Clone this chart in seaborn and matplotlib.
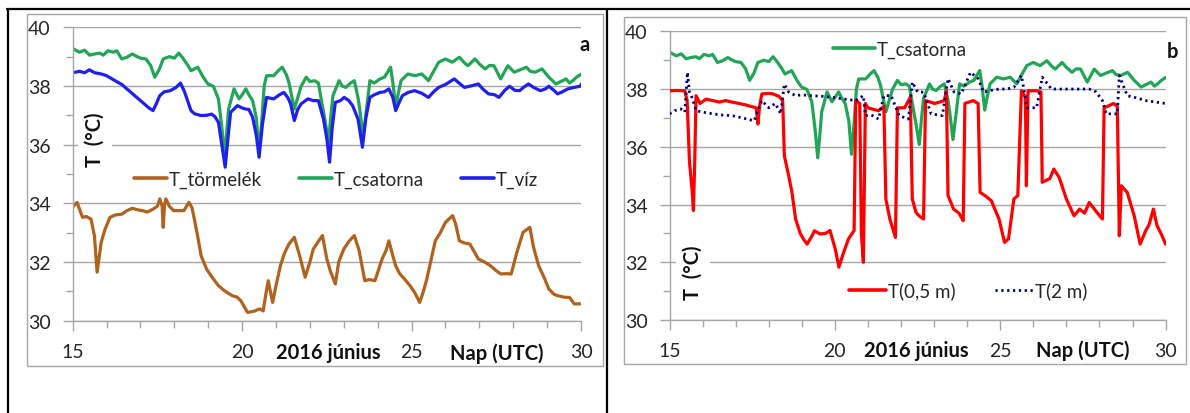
import matplotlib
matplotlib.use("Agg")
import matplotlib.pyplot as plt
import seaborn as sns
import pandas as pd
from matplotlib.lines import Line2D
from matplotlib.patches import Rectangle
from matplotlib.ticker import MultipleLocator

# ---------------- data ----------------
csat_day = [15.0, 15.03, 15.2, 15.35, 15.5, 15.64, 15.8, 15.9, 16.04, 16.2, 16.3, 16.45, 16.6, 16.76, 16.9,
            17.0, 17.16, 17.3, 17.42, 17.55, 17.67, 17.85, 18.0, 18.13, 18.25, 18.4, 18.49, 18.69, 18.85,
            18.99, 19.15, 19.3, 19.4, 19.48, 19.55, 19.6, 19.76, 19.91, 20.0, 20.11, 20.2, 20.31, 20.42,
            20.5, 20.58, 20.65, 20.72, 20.93, 21.05, 21.18, 21.3, 21.38, 21.54, 21.64, 21.74, 21.89, 22.0,
            22.14, 22.25, 22.35, 22.45, 22.55, 22.62, 22.68, 22.86, 22.95, 23.06, 23.2, 23.31, 23.42,
            23.47, 23.57, 23.67, 23.77, 23.9, 24.07, 24.2, 24.38, 24.45, 24.53, 24.6, 24.69, 24.89, 25.1,
            25.3, 25.5, 25.65, 25.8, 26.0, 26.2, 26.41, 26.55, 26.66, 26.87, 27.0, 27.17, 27.3, 27.43,
            27.63, 27.84, 28.03, 28.2, 28.39, 28.5, 28.65, 28.85, 29.05, 29.26, 29.4, 29.56, 29.66, 29.76,
            29.87, 30.0]
csat_val = [39.2, 39.26, 39.15, 39.22, 39.05, 39.09, 39.12, 39.05, 39.2, 39.15, 39.2, 38.92, 38.98, 39.09, 39.0,
            38.95, 38.92, 38.7, 38.3, 38.55, 38.92, 39.0, 38.95, 39.12, 38.95, 38.7, 38.52, 38.64, 38.3,
            38.07, 37.99, 37.56, 36.6, 35.62, 36.5, 37.21, 37.9, 37.56, 37.7, 37.9, 37.7, 37.5, 36.9,
            35.74, 36.8, 38.0, 38.35, 38.35, 38.5, 38.64, 38.4, 38.12, 37.21, 37.6, 37.99, 38.3, 38.15,
            38.18, 38.1, 37.44, 36.8, 36.08, 37.0, 37.67, 38.18, 38.0, 37.95, 38.1, 38.18, 37.6,
            37.21, 36.25, 37.2, 38.18, 38.1, 38.24, 38.3, 38.64, 38.1, 37.27, 37.7, 38.18, 38.41, 38.35,
            38.41, 38.18, 38.5, 38.81, 38.92, 38.81, 38.98, 38.8, 38.69, 38.92, 38.75, 38.58, 38.7, 38.69,
            38.24, 38.69, 38.47, 38.55, 38.64, 38.5, 38.47, 38.58, 38.3, 38.07, 38.15, 38.24, 38.1, 38.18,
            38.3, 38.4]

viz_day = [15.0, 15.2, 15.35, 15.49, 15.65, 15.84, 16.0, 16.25, 16.45, 16.66, 16.85, 17.06, 17.25, 17.37, 17.45,
           17.57, 17.7, 17.88, 18.05, 18.18, 18.3, 18.49, 18.6, 18.79, 18.95, 19.1, 19.2, 19.3, 19.4, 19.5,
           19.58, 19.66, 19.86, 20.0, 20.11, 20.2, 20.31, 20.42, 20.5, 20.6, 20.72, 20.93, 21.1, 21.23,
           21.35, 21.43, 21.54, 21.64, 21.74, 21.94, 22.1, 22.25, 22.4, 22.5, 22.58, 22.66, 22.75, 22.9,
           23.01, 23.15, 23.26, 23.42, 23.55, 23.65, 23.77, 23.9, 24.07, 24.2, 24.33, 24.45, 24.53, 24.62,
           24.73, 24.9, 25.09, 25.3, 25.5, 25.65, 25.8, 26.0, 26.26, 26.4, 26.56, 26.75, 26.97, 27.1,
           27.27, 27.45, 27.58, 27.75, 27.89, 28.05, 28.19, 28.3, 28.45, 28.6, 28.8, 28.95, 29.05, 29.2,
           29.31, 29.45, 29.61, 29.8, 29.97, 30.0]
viz_val = [38.45, 38.5, 38.45, 38.55, 38.45, 38.41, 38.35, 38.18, 38.05, 37.84, 37.65, 37.44, 37.25, 37.16, 37.35,
           37.67, 37.8, 37.84, 37.95, 38.1, 37.8, 37.16, 37.05, 36.99, 37.0, 37.04, 36.95, 36.76, 36.0, 35.23,
           36.2, 37.1, 37.33, 37.25, 37.21, 37.2, 36.93, 36.3, 35.57, 36.7, 37.61, 37.56, 37.7, 37.78,
           37.6, 37.39, 36.82, 37.2, 37.39, 37.56, 37.5, 37.5, 36.87, 36.2, 35.4, 36.6, 37.44, 37.5,
           37.61, 37.5, 37.33, 36.87, 35.91, 36.9, 37.61, 37.7, 37.78, 37.8, 37.9, 37.6, 37.16, 37.4,
           37.67, 37.78, 37.84, 37.75, 37.61, 37.8, 37.95, 38.05, 38.24, 38.1, 37.95, 38.0, 38.07, 37.9,
           37.73, 37.7, 37.61, 37.85, 37.99, 37.85, 37.84, 37.95, 38.07, 37.95, 37.84, 37.9, 37.99, 37.85,
           37.73, 37.8, 37.9, 37.95, 37.99, 38.05]

torm_day = [15.0, 15.03, 15.13, 15.2, 15.29, 15.4, 15.54, 15.64, 15.72, 15.84, 15.95, 16.1, 16.25, 16.45, 16.6,
            16.76, 16.9, 17.06, 17.2, 17.37, 17.5, 17.57, 17.64, 17.67, 17.71, 17.75, 17.85, 17.98, 18.1,
            18.28, 18.43, 18.52, 18.59, 18.7, 18.79, 18.95, 19.1, 19.3, 19.5, 19.71, 19.85, 19.96, 20.05,
            20.16, 20.35, 20.52, 20.62, 20.7, 20.77, 20.9, 21.0, 21.13, 21.25, 21.38, 21.54, 21.7, 21.86,
            22.0, 22.1, 22.25, 22.37, 22.5, 22.6, 22.75, 22.85, 23.0, 23.15, 23.31, 23.45, 23.62, 23.75,
            23.92, 24.13, 24.25, 24.33, 24.45, 24.53, 24.65, 24.79, 24.95, 25.09, 25.24, 25.35, 25.45,
            25.6, 25.7, 25.85, 26.0, 26.21, 26.3, 26.41, 26.55, 26.72, 26.85, 26.97, 27.15, 27.33, 27.5,
            27.63, 27.8, 27.94, 28.1, 28.29, 28.49, 28.6, 28.75, 28.9, 29.05, 29.2, 29.31, 29.5, 29.66,
            29.8, 29.97]
torm_val = [33.85, 33.92, 34.03, 33.8, 33.52, 33.55, 33.46, 32.9, 31.65, 32.67, 33.1, 33.52, 33.6, 33.63, 33.75,
            33.83, 33.78, 33.75, 33.7, 33.8, 33.9, 34.15, 33.9, 33.18, 33.95, 34.15, 33.9, 33.75, 33.75,
            33.75, 34.03, 33.85, 33.46, 32.8, 32.21, 31.76, 31.5, 31.19, 31.0, 30.85, 30.8, 30.68, 30.5,
            30.28, 30.32, 30.4, 30.33, 30.9, 31.36, 30.62, 31.2, 31.87, 32.3, 32.61, 32.84, 32.2, 31.48,
            32.0, 32.44, 32.7, 32.9, 32.1, 31.7, 31.25, 32.0, 32.44, 32.7, 32.9, 32.4, 31.36, 31.4,
            31.36, 32.1, 32.4, 32.72, 32.2, 31.87, 31.6, 31.42, 31.2, 30.96, 30.62, 31.0, 31.42,
            32.2, 32.72, 33.0, 33.35, 33.58, 33.3, 32.72, 32.65, 32.61, 32.35, 32.1, 32.0, 31.87, 31.7,
            31.59, 31.6, 31.59, 32.3, 33.01, 33.18, 32.5, 31.87, 31.5, 31.08, 30.9, 30.85, 30.8, 30.79,
            30.57, 30.57]

t05_day = [15.0, 15.2, 15.46, 15.53, 15.6, 15.68, 15.72, 15.76, 15.8, 15.92, 16.1, 16.31, 16.5, 16.7, 16.88,
           17.1, 17.3, 17.45, 17.62, 17.67, 17.72, 17.79, 18.0, 18.13, 18.3, 18.42, 18.47, 18.6, 18.7,
           18.81, 18.95, 19.05, 19.16, 19.3, 19.38, 19.55, 19.72, 19.85, 20.01, 20.12, 20.25, 20.41,
           20.58, 20.63, 20.75, 20.8, 20.86, 20.92, 21.0, 21.15, 21.32, 21.48, 21.54, 21.66, 21.83,
           21.89, 22.11, 22.28, 22.34, 22.45, 22.55, 22.68, 22.74, 23.02, 23.31, 23.37, 23.42, 23.59,
           23.75, 23.88, 23.93, 24.18, 24.33, 24.39, 24.55, 24.73, 24.96, 25.13, 25.25, 25.41, 25.53,
           25.64, 25.76, 25.79, 25.84, 26.1, 26.23, 26.27, 26.5, 26.62, 26.78, 27.0, 27.23, 27.4, 27.55,
           27.69, 27.92, 28.09, 28.14, 28.43, 28.54, 28.6, 28.66, 28.84, 29.05, 29.23, 29.4, 29.5,
           29.63, 29.74, 29.86, 30.0]
t05_val = [37.94, 37.95, 37.94, 37.6, 35.5, 34.5, 33.79, 35.5, 37.77, 37.5, 37.65, 37.6, 37.55, 37.6, 37.55,
           37.5, 37.45, 37.4, 37.35, 36.79, 37.4, 37.83, 37.85, 37.83, 37.75, 37.6, 35.69, 35.0, 34.42,
           33.5, 33.0, 32.8, 32.63, 32.9, 33.09, 32.98, 33.0, 33.1, 32.46, 31.83, 32.3, 32.81,
           33.1, 37.6, 37.5, 33.0, 32.0, 37.5, 37.35, 37.3, 37.25, 37.4, 34.19, 33.5, 32.86,
           37.35, 37.35, 37.72, 34.19, 33.73, 33.6, 33.5, 37.6, 37.5, 37.6, 37.94, 34.31, 33.84,
           33.7, 33.44, 37.5, 37.6, 37.5, 34.42, 34.3, 34.13, 33.5, 32.69, 32.81, 34.19, 34.31,
           37.94, 37.72, 34.65, 37.94, 37.94, 37.9, 34.77, 34.9, 35.23, 34.94, 34.19, 33.61, 33.84, 33.7,
           34.07, 33.73, 33.5, 37.35, 37.5, 37.4, 32.92, 34.65, 34.42, 33.61, 32.63, 33.1, 33.3,
           33.84, 33.27, 33.0, 32.63]

t2_day = [15.0, 15.15, 15.34, 15.46, 15.54, 15.6, 15.66, 15.8, 16.0, 16.31, 16.6, 16.88, 17.2, 17.56, 17.65,
          17.79, 18.0, 18.2, 18.36, 18.47, 18.6, 18.81, 19.0, 19.27, 19.6, 19.95, 20.3, 20.63, 20.86,
          20.92, 21.1, 21.32, 21.48, 21.7, 21.94, 22.22, 22.34, 22.5, 22.68, 22.91, 23.25, 23.42, 23.6,
          23.82, 24.1, 24.33, 24.5, 24.7, 24.96, 25.2, 25.41, 25.64, 25.81, 26.1, 26.27, 26.55, 26.9,
          27.23, 27.69, 27.9, 28.09, 28.2, 28.54, 28.6, 28.84, 29.1, 29.4, 29.7, 30.0]
t2_val = [37.14, 37.25, 37.31, 37.2, 38.58, 37.9, 37.77, 37.25, 37.2, 37.14, 37.1, 37.08, 37.0, 36.9, 37.2,
          37.6, 37.35, 37.5, 37.14, 38.17, 37.9, 37.77, 37.8, 37.77, 37.75, 37.71, 37.65, 37.6, 37.77,
          37.08, 37.1, 36.96, 37.77, 37.77, 37.08, 36.96, 38.24, 37.9, 37.89, 37.14, 37.08, 38.36, 37.9,
          37.83, 38.58, 38.36, 37.89, 37.95, 38.0, 38.0, 38.06, 38.47, 37.35, 37.35, 38.41, 38.0, 38.0,
          38.0, 38.0, 37.9, 37.6, 37.14, 37.14, 38.47, 37.77, 37.7, 37.6, 37.55, 37.5]

x_tick_labels = ["15", "20", "25", "30"]
y_ticks = [30, 32, 34, 36, 38, 40]

# ---------------- style ----------------
sns.set_style("white")
plt.rcParams["font.family"] = ["Lato", "DejaVu Sans"]

W, H = 1190, 414
fig = plt.figure(figsize=(W / 100, H / 100), dpi=100)


def fx(px):
    return px / W


def fy(py):
    return 1 - py / H


C_BROWN = "#B0621E"
C_GREEN = "#22A556"
C_BLUE = "#1F1FF0"
C_RED = "#FF0000"
C_NAVY = "#00007A"
TXT = "#262626"
GRID = "#A6A6A6"
FS = 13.5
FSB = 14.5
LW = 2.3

ax_a = fig.add_axes([fx(72.7), fy(321.6), fx(581) - fx(72.7), fy(28.3) - fy(321.6)])
ax_b = fig.add_axes([fx(669.6), fy(321), fx(1165.6) - fx(669.6), fy(32.3) - fy(321)])


def style(ax):
    ax.set_xlim(15, 30)
    ax.set_ylim(30, 40)
    ax.set_xticks([15, 20, 25, 30])
    ax.set_xticklabels(x_tick_labels)
    ax.xaxis.set_minor_locator(MultipleLocator(1))
    ax.set_yticks(y_ticks)
    ax.set_yticklabels([str(v) for v in y_ticks])
    ax.yaxis.set_minor_locator(MultipleLocator(1))
    ax.yaxis.grid(True, which="major", color=GRID, lw=1)
    ax.xaxis.grid(False)
    ax.set_axisbelow(True)
    for s in ["top", "right"]:
        ax.spines[s].set_visible(False)
    for s in ["left", "bottom"]:
        ax.spines[s].set_color(GRID)
        ax.spines[s].set_linewidth(1)
    ax.tick_params(which="major", direction="out", length=7, width=1, color=GRID,
                   labelsize=14, labelcolor=TXT, left=True, bottom=True)
    ax.tick_params(which="minor", direction="out", length=5, width=1, color=GRID,
                   left=True, bottom=True)
    ax.tick_params(axis="y", which="major", pad=9)
    ax.tick_params(axis="x", which="major", pad=9)
    ax.set_xlabel("")
    ax.set_ylabel("")


def draw(ax, x, y, color, lw=LW, ls="-", z=2):
    df = pd.DataFrame({"day": x, "T": y})
    sns.lineplot(data=df, x="day", y="T", ax=ax, color=color, lw=lw, linestyle=ls,
                 estimator=None, sort=False, legend=False, zorder=z)


# panel a
draw(ax_a, torm_day, torm_val, C_BROWN)
draw(ax_a, csat_day, csat_val, C_GREEN)
draw(ax_a, viz_day, viz_val, C_BLUE)
style(ax_a)

# panel b
draw(ax_b, csat_day, csat_val, C_GREEN, z=2)
draw(ax_b, t05_day, t05_val, C_RED, z=3)
draw(ax_b, t2_day, t2_val, C_NAVY, lw=2.0, ls=(0, (0.8, 1.3)), z=4)
style(ax_b)

# legends
h_a = [Line2D([], [], color=C_BROWN, lw=2.6), Line2D([], [], color=C_GREEN, lw=2.6),
       Line2D([], [], color=C_BLUE, lw=2.6)]
ax_a.legend(h_a, ["T_törmelék", "T_csatorna", "T_víz"], ncol=3, loc="center",
            bbox_to_anchor=(fx(336), fy(180)), bbox_transform=fig.transFigure, frameon=False,
            fontsize=FS, handlelength=1.75, handletextpad=0.1, columnspacing=2.0, labelcolor=TXT,
            borderpad=0.1)

leg1 = ax_b.legend([Line2D([], [], color=C_GREEN, lw=2.6)], ["T_csatorna"], loc="center",
                   bbox_to_anchor=(fx(900), fy(50)), bbox_transform=fig.transFigure, frameon=False,
                   fontsize=FS, handlelength=2.2, handletextpad=0.1, labelcolor=TXT, borderpad=0.1)
ax_b.add_artist(leg1)
ax_b.legend([Line2D([], [], color=C_RED, lw=2.6),
             Line2D([], [], color=C_NAVY, lw=2.0, ls=(0, (0.8, 1.3)))],
            ["T(0,5 m)", "T(2 m)"], ncol=2, loc="center",
            bbox_to_anchor=(fx(968), fy(291.5)), bbox_transform=fig.transFigure, frameon=False,
            fontsize=FS, handlelength=2.0, handletextpad=0.1, columnspacing=2.1, labelcolor=TXT,
            borderpad=0.1)

# y labels with white background covering gridline (kept clear of the axis spine)
lab_kw = dict(rotation=90, ha="center", va="center", fontsize=FSB, fontweight="bold", color="#111111",
              bbox=dict(facecolor="white", edgecolor="none", pad=5), zorder=5)
fig.text(fx(95), fy(140), "T  (°C)", **lab_kw)
fig.text(fx(693), fy(273), "T  (°C)", **lab_kw)

# bold axis annotations
bold_kw = dict(ha="center", va="center", fontsize=FSB, fontweight="bold", color="#111111")
fig.text(fx(328), fy(353), "2016 június", **bold_kw)
fig.text(fx(497), fy(354), "Nap (UTC)", **bold_kw)
fig.text(fx(916), fy(351), "2016 június", **bold_kw)
fig.text(fx(1083), fy(351), "Nap (UTC)", **bold_kw)
fig.text(fx(585), fy(45), "a", **bold_kw)
fig.text(fx(1172), fy(52), "b", **bold_kw)

# chart-area frames
fig.patches.append(Rectangle((fx(27), fy(367)), fx(603) - fx(27), fy(15) - fy(367),
                             transform=fig.transFigure, fill=False, edgecolor=GRID, lw=1))
fig.patches.append(Rectangle((fx(624), fy(365)), fx(1186) - fx(624), fy(18) - fy(365),
                             transform=fig.transFigure, fill=False, edgecolor=GRID, lw=1))

# table borders (black)
for xs, ys in [((fx(7), fx(1190)), (fy(10), fy(10))),
               ((fx(8), fx(8)), (fy(10), fy(414))),
               ((fx(607), fx(607)), (fy(10), fy(414)))]:
    fig.lines.append(Line2D(xs, ys, transform=fig.transFigure, color="black", lw=1.6))

fig.savefig("out.png", dpi=100)
